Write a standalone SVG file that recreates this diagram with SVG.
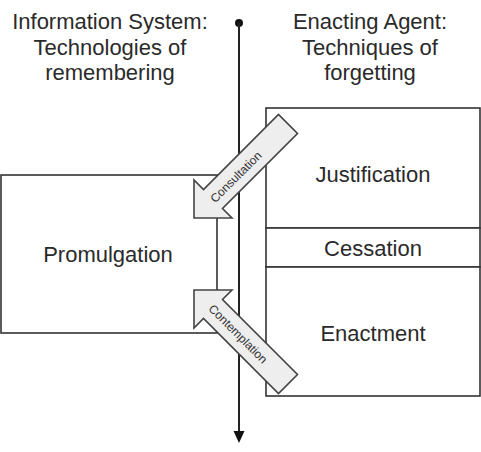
<svg xmlns="http://www.w3.org/2000/svg" width="481" height="452" viewBox="0 0 481 452">
<defs>
<style>
.t{font-family:"Liberation Sans",Arial,sans-serif;font-size:22px;fill:#2a2a2a;text-anchor:middle}
.s{font-family:"Liberation Sans",Arial,sans-serif;font-size:12px;fill:#333;text-anchor:middle;dominant-baseline:central}
.box{fill:#fff;stroke:#333;stroke-width:1.6}
.arr{fill:#eeeeee;stroke:#444;stroke-width:1.6;stroke-linejoin:miter}
.axis{stroke:#222;stroke-width:2;fill:none}
</style>
</defs>
<rect width="481" height="452" fill="#fff"/>
<g id="title-left">
<text class="t" x="110" y="29">Information System:</text>
<text class="t" x="110" y="55">Technologies of</text>
<text class="t" x="110" y="80">remembering</text>
</g>
<g id="title-right">
<text class="t" x="370" y="29">Enacting Agent:</text>
<text class="t" x="370" y="55">Techniques of</text>
<text class="t" x="370" y="80">forgetting</text>
</g>
<g id="promulgation">
<rect class="box" x="1" y="175" width="216" height="158"/>
<text class="t" x="108" y="262">Promulgation</text>
</g>
<g id="justification">
<rect class="box" x="266" y="108" width="214" height="120"/>
<text class="t" x="373" y="182">Justification</text>
</g>
<g id="cessation">
<rect class="box" x="266" y="228" width="214" height="39"/>
<text class="t" x="373" y="256">Cessation</text>
</g>
<g id="enactment">
<rect class="box" x="266" y="267" width="214" height="129"/>
<text class="t" x="373" y="341">Enactment</text>
</g>
<g id="connectors">
<circle cx="239" cy="23" r="4" fill="#111"/>
<line class="axis" x1="239" y1="23" x2="239" y2="433"/>
<polygon points="233.5,431 244.5,431 239,443" fill="#111"/>
</g>
<g id="consultation">
<polygon class="arr" points="194,218 194,180 203.5,189.5 278.5,114.5 297.5,133.5 222.5,208.5 232,218"/>
<text class="s" transform="translate(236,177) rotate(-45)">Consultation</text>
</g>
<g id="contemplation">
<polygon class="arr" points="194,290 194,328 203.5,318.5 278.5,393.5 297.5,374.5 222.5,299.5 232,290"/>
<text class="s" transform="translate(238,334) rotate(45)">Contemplation</text>
</g>
</svg>
